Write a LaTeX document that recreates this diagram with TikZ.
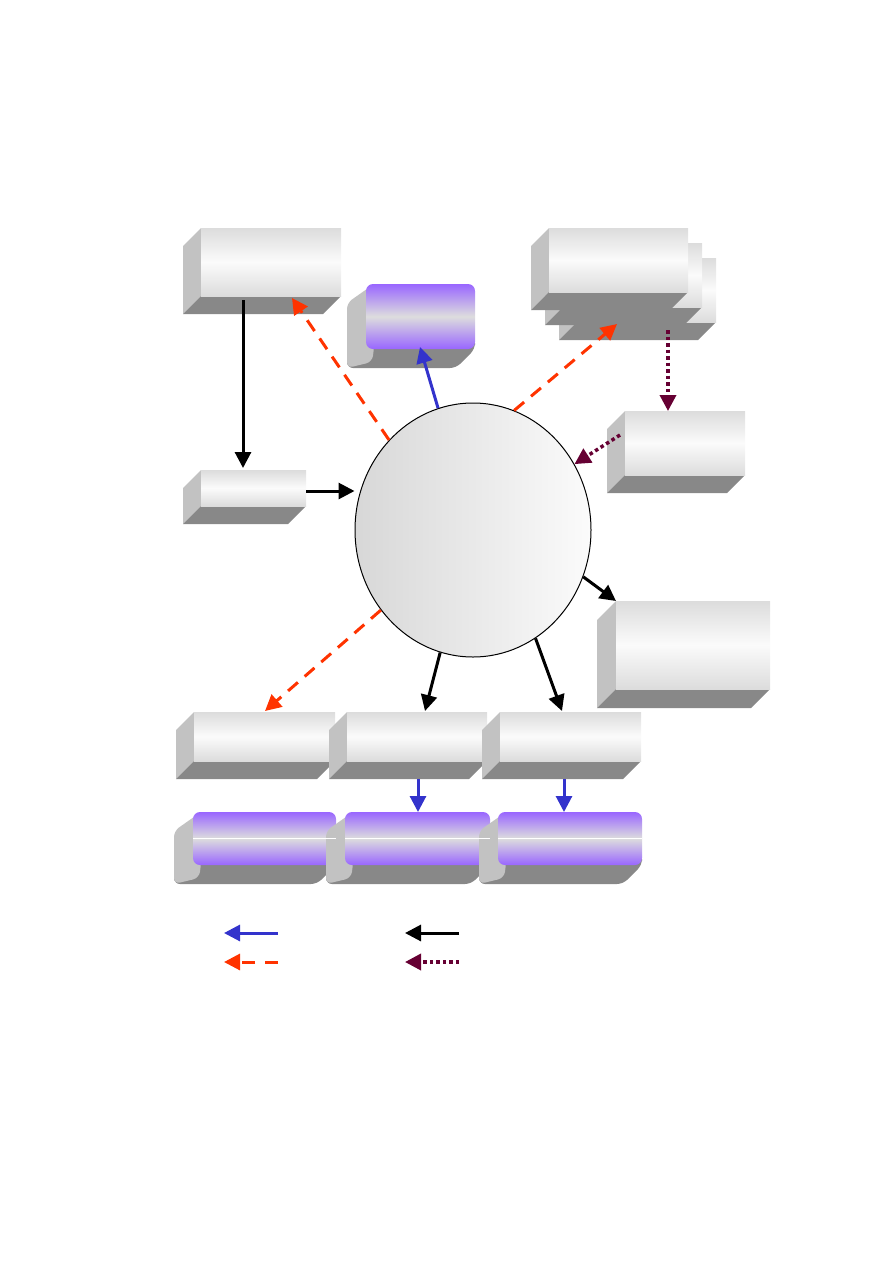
\documentclass[tikz,border=0pt]{standalone}
\usetikzlibrary{shapes.geometric,arrows.meta,calc}
\definecolor{sidec}{HTML}{C2C2C2}
\definecolor{botc}{HTML}{888888}
\definecolor{facee}{HTML}{DCDCDC}
\definecolor{facem}{HTML}{FBFBFB}
\definecolor{purp}{HTML}{9966FF}
\definecolor{purm}{HTML}{DDDDDD}
\definecolor{ablue}{HTML}{3333CC}
\definecolor{ared}{HTML}{FF3300}
\definecolor{adot}{HTML}{660033}
\tikzset{
  front/.style={draw=none,inner sep=0pt,outer sep=0pt,rectangle,
    top color=facee,bottom color=facee,middle color=facem},
  pfront/.style={draw=none,inner sep=0pt,outer sep=0pt,rectangle,rounded corners=7pt,
    top color=purp,bottom color=purp,middle color=purm},
  tip/.style={-{Triangle[length=16pt,width=16pt]}},
  blk/.style={tip,line width=3pt,black},
  blu/.style={tip,line width=3pt,ablue},
  red/.style={tip,line width=3pt,ared,dash pattern=on 13pt off 9pt},
  dotl/.style={tip,line width=3.5pt,adot,dash pattern=on 3.5pt off 3pt},
  hiline/.style={white,line width=1.5pt},
}
% name, x1, y1, x2, y2, depth
\newcommand\cubebox[6]{%
  \fill[sidec] (#2,#3) -- (#2-#6,#3+#6) -- (#2-#6,#5+#6) -- (#2,#5) -- cycle;
  \fill[botc] (#2,#5) -- (#4,#5) -- (#4-#6,#5+#6) -- (#2-#6,#5+#6) -- cycle;
  \node[front,minimum width={#4pt-#2pt},minimum height={#5pt-#3pt}] (#1) at ({(#2+#4)/2},{(#3+#5)/2}) {};
}
\newcommand\purpbox[6]{%
  \fill[botc,rounded corners=6pt] (#2+10,#5-10) -- (#4,#5-10) -- (#4,#5) -- (#4-#6,#5+#6) -- (#2-#6,#5+#6) -- (#2-#6,#5) -- cycle;
  \fill[sidec,rounded corners=6pt] (#2+8,#3) -- (#2-#6,#3+#6) -- (#2-#6,#5+#6) -- (#2+6,#5+#6-6) -- (#2+8,#5) -- cycle;
  \node[pfront,minimum width={#4pt-#2pt},minimum height={#5pt-#3pt}] (#1) at ({(#2+#4)/2},{(#3+#5)/2}) {};
}
\begin{document}
\begin{tikzpicture}[x=1pt,y=-1pt]
\useasboundingbox (0,0) rectangle (893,1263);
% boxes
\cubebox{tl}{201}{228}{341}{296}{18}
\purpbox{tp}{366}{284}{475}{349}{19}
\cubebox{s3}{577}{258}{716}{322}{18}
\cubebox{s2}{563}{243}{702}{307}{18}
\cubebox{s1}{549}{228}{688}{292}{18}
\cubebox{rm}{625}{411}{745}{475}{18}
\cubebox{sm}{201}{470}{306}{506}{18}
\cubebox{rb}{616}{601}{770}{689}{19}
\cubebox{ba}{194}{712}{335}{761}{18}
\cubebox{bb}{347}{712}{487}{761}{18}
\cubebox{bc}{500}{712}{641}{761}{18}
\purpbox{pa}{193}{812}{336}{865}{19}
\purpbox{pb}{345}{812}{490}{865}{19}
\purpbox{pc}{498}{812}{642}{865}{19}
\draw[hiline] (pa.west) -- (pa.east);
\draw[hiline] (pb.west) -- (pb.east);
\draw[hiline] (pc.west) -- (pc.east);
% centre ellipse
\node[ellipse,draw=black,line width=1pt,minimum width=236pt,minimum height=254pt,
  inner sep=0pt,left color=facee!95!gray,right color=facem] (c) at (473,530) {};
% connectors
\draw[blk] ($(tl.south west)+(42,4)$) -- ($(sm.north west)+(42,-2)$);
\draw[blk] ($(sm.east)+(0,3)$) -- (c.west |- {$(sm.east)+(0,3)$});
\draw[red] (c.133) -- ($(tl.south west)+(91,2)$);
\draw[blu] (c.106) -- ($(tp.south west)+(54,-2)$);
\draw[red] (c.71) -- ($(s3.south west)+(40,2)$);
\draw[dotl] ($(s3.south west)+(91,8)$) -- (rm.north -| {$(s3.south west)+(91,8)$});
\draw[dotl] ($(rm.west)+(-5,-8)$) -- (c.33);
\draw[blk] (c.-23) -- (rb.north west);
\draw[blk] (c.-105) -- ($(bb.north west)+(78,-1)$);
\draw[blk] (c.-60) -- ($(bc.north west)+(62,-1)$);
\draw[red] (c.-139) -- ($(ba.north west)+(71,-1)$);
\draw[blu] ($(bb.south west)+(71,18)$) -- ($(pb.north west)+(73,0)$);
\draw[blu] ($(bc.south west)+(64,18)$) -- ($(pc.north west)+(66,0)$);
% legend
\coordinate (l1a) at (278,933); \coordinate (l1b) at (224,933);
\coordinate (l2a) at (459,933); \coordinate (l2b) at (405,933);
\coordinate (l3a) at (278,962); \coordinate (l3b) at (224,962);
\coordinate (l4a) at (459,962); \coordinate (l4b) at (405,962);
\draw[blu] (l1a) -- (l1b);
\draw[blk] (l2a) -- (l2b);
\draw[red,dash pattern=on 13pt off 10pt,dash phase=0pt] (l3a) -- (l3b);
\draw[dotl] (l4a) -- (l4b);
\end{tikzpicture}
\end{document}
